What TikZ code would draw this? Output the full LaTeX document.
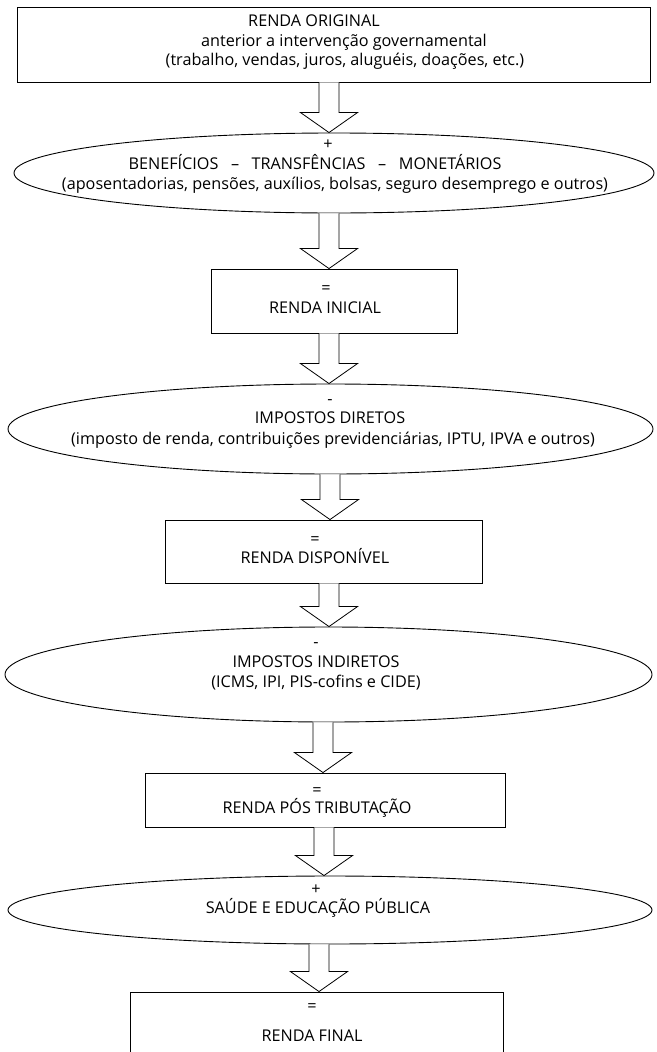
\documentclass[tikz,border=0pt]{standalone}
\usepackage{fontspec}
\setmainfont{Open Sans}
\usetikzlibrary{shapes.geometric,calc}
\tikzset{
  boxst/.style={draw, line width=0.9pt, rectangle, inner sep=0pt},
  ellst/.style={draw, line width=0.9pt, ellipse, inner sep=0pt},
  txt/.style={font=\fontsize{16.2}{19}\selectfont, inner sep=0pt, text height=0.72em, text depth=0pt, anchor=center},
  arr/.style={draw, fill=white, line width=0.8pt, line join=miter},
}
\newcommand\barrow[3]{%
  \draw[arr] let \p1=(#1.south), \p2=(#2.north), \p3=(#3,0) in
    (\x3-10pt,\y1) -- (\x3-10pt,\y2+20pt) -- (\x3-28.5pt,\y2+20pt) -- (\x3,\y2)
    -- (\x3+28.5pt,\y2+20pt) -- (\x3+10pt,\y2+20pt) -- (\x3+10pt,\y1);}
\begin{document}
\begin{tikzpicture}[x=1pt,y=-1pt]
\useasboundingbox (0,0) rectangle (656,1052);
\clip (0,0) rectangle (656,1052);
% shapes
\node[boxst, minimum width=633pt, minimum height=75pt] (b1) at (333.5,44.5) {};
\node[ellst, minimum width=640pt, minimum height=80pt] (e1) at (334,173) {};
\node[boxst, minimum width=246pt, minimum height=64pt] (b2) at (334,301) {};
\node[ellst, minimum width=645pt, minimum height=90pt] (e2) at (330.5,429) {};
\node[boxst, minimum width=317pt, minimum height=63pt] (b3) at (323.5,551.5) {};
\node[ellst, minimum width=647pt, minimum height=95pt] (e3) at (328.5,674.5) {};
\node[boxst, minimum width=360pt, minimum height=54pt] (b4) at (325,800) {};
\node[ellst, minimum width=644pt, minimum height=68pt] (e4) at (330,910) {};
\node[boxst, minimum width=373pt, minimum height=88pt] (b5) at (316.5,1036) {};
% arrows
\barrow{b1}{e1}{329}
\barrow{e1}{b2}{329}
\barrow{b2}{e2}{329}
\barrow{e2}{b3}{330}
\barrow{b3}{e3}{329}
\barrow{e3}{b4}{323}
\barrow{b4}{e4}{324}
\barrow{e4}{b5}{319}
% texts
\node[txt] (t1a) at (314,23) {RENDA ORIGINAL};
\node[txt] (t1b) at (344,42.5) {anterior a intervenção governamental};
\node[txt] (t1c) at (345,62) {(trabalho, vendas, juros, aluguéis, doações, etc.)};
\node[txt] (t2a) at (328,146) {+};
\node[txt] (t2b) at (315,166) {BENEFÍCIOS\ \ \ –\ \ \ TRANSFÊNCIAS\ \ \ –\ \ \ MONETÁRIOS};
\node[txt] (t2c) at (335,186) {(aposentadorias, pensões, auxílios, bolsas, seguro desemprego e outros)};
\node[txt] (t3a) at (326,290) {=};
\node[txt] (t3b) at (325,310) {RENDA INICIAL};
\node[txt] (t4a) at (330,401) {-};
\node[txt] (t4b) at (330,420) {IMPOSTOS DIRETOS};
\node[txt] (t4c) at (333,441) {(imposto de renda, contribuições previdenciárias, IPTU, IPVA e outros)};
\node[txt] (t5a) at (315,541) {=};
\node[txt] (t5b) at (315,560) {RENDA DISPONÍVEL};
\node[txt] (t6a) at (316,644) {-};
\node[txt] (t6b) at (316,664) {IMPOSTOS INDIRETOS};
\node[txt] (t6c) at (316,684) {(ICMS, IPI, PIS-cofins e CIDE)};
\node[txt] (t7a) at (317,792) {=};
\node[txt] (t7b) at (317,810) {RENDA PÓS TRIBUTAÇÃO};
\node[txt] (t8a) at (316,891) {+};
\node[txt] (t8b) at (318,910) {SAÚDE E EDUCAÇÃO PÚBLICA};
\node[txt] (t9a) at (312,1008) {=};
\node[txt] (t9b) at (312,1038) {RENDA FINAL};
\end{tikzpicture}
\end{document}
